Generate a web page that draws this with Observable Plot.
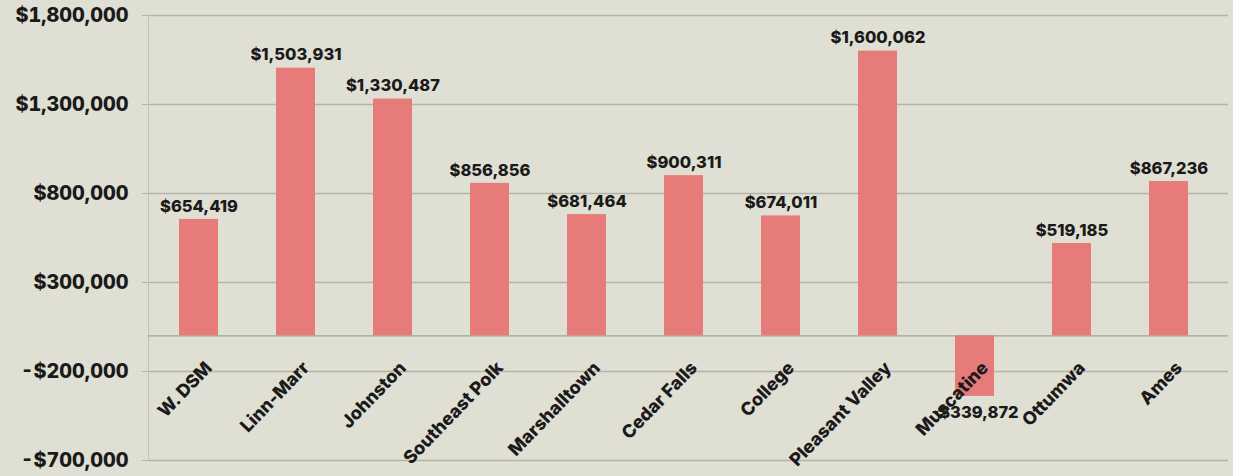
<!DOCTYPE html>
<html>
<head>
<meta charset="utf-8">
<script src="https://cdn.jsdelivr.net/npm/d3@7"></script>
<script src="https://cdn.jsdelivr.net/npm/@observablehq/plot@0.6"></script>
<style>
  html, body { margin: 0; padding: 0; background: #dfdfd3; }
  #chart svg { display: block; }
</style>
</head>
<body>
<div id="chart"></div>
<script>
const districts = ["W. DSM", "Linn-Marr", "Johnston", "Southeast Polk", "Marshalltown", "Cedar Falls", "College", "Pleasant Valley", "Muscatine", "Ottumwa", "Ames"];
const amounts = [654419, 1503931, 1330487, 856856, 681464, 900311, 674011, 1600062, -339872, 519185, 867236];
const yTicks = [-700000, -200000, 300000, 800000, 1300000, 1800000];

const data = districts.map((d, i) => ({district: d, amount: amounts[i]}));
const money = v => (v < 0 ? "-$" : "$") + d3.format(",")(Math.abs(v));
const font = "Inter, 'DejaVu Sans', sans-serif";

const chart = Plot.plot({
  width: 1233,
  height: 476,
  marginLeft: 148,
  marginRight: 5,
  marginTop: 15,
  marginBottom: 16,
  style: {background: "#dfdfd3", fontFamily: font, color: "#1a1a1a"},
  x: {domain: districts, paddingInner: 0.6, paddingOuter: 0.35, align: 0.43, axis: null},
  y: {domain: [-700000, 1800000], axis: null},
  marks: [
    Plot.gridY(yTicks, {stroke: "#b3b3a8", strokeOpacity: 1, strokeWidth: 1.4}),
    Plot.axisY({ticks: yTicks, tickFormat: money, tickSize: 6, tickPadding: 14, stroke: "#b3b3a8", fontSize: 19.8, fontWeight: 800, label: null}),
    Plot.frame({anchor: "left", stroke: "#c2c2b7"}),
    Plot.ruleY([0], {stroke: "#a3a398", strokeWidth: 1.4}),
    Plot.barY(data, {x: "district", y: "amount", fill: "#e67b7a"}),
    Plot.text(data.filter(d => d.amount >= 0), {x: "district", y: "amount", text: d => money(d.amount), dy: -13, fontSize: 16.5, fontWeight: 800, fill: "#1a1a1a"}),
    Plot.text(data.filter(d => d.amount < 0), {x: "district", y: "amount", text: d => money(d.amount), dy: 16, fontSize: 16.5, fontWeight: 800, fill: "#1a1a1a"}),
    Plot.text(data, {x: "district", y: () => 0, text: "district", rotate: -46, textAnchor: "end", dx: 10, dy: 29, fontSize: 18, fontWeight: 800, fill: "#1a1a1a"})
  ]
});
document.getElementById("chart").appendChild(chart);
</script>
</body>
</html>
